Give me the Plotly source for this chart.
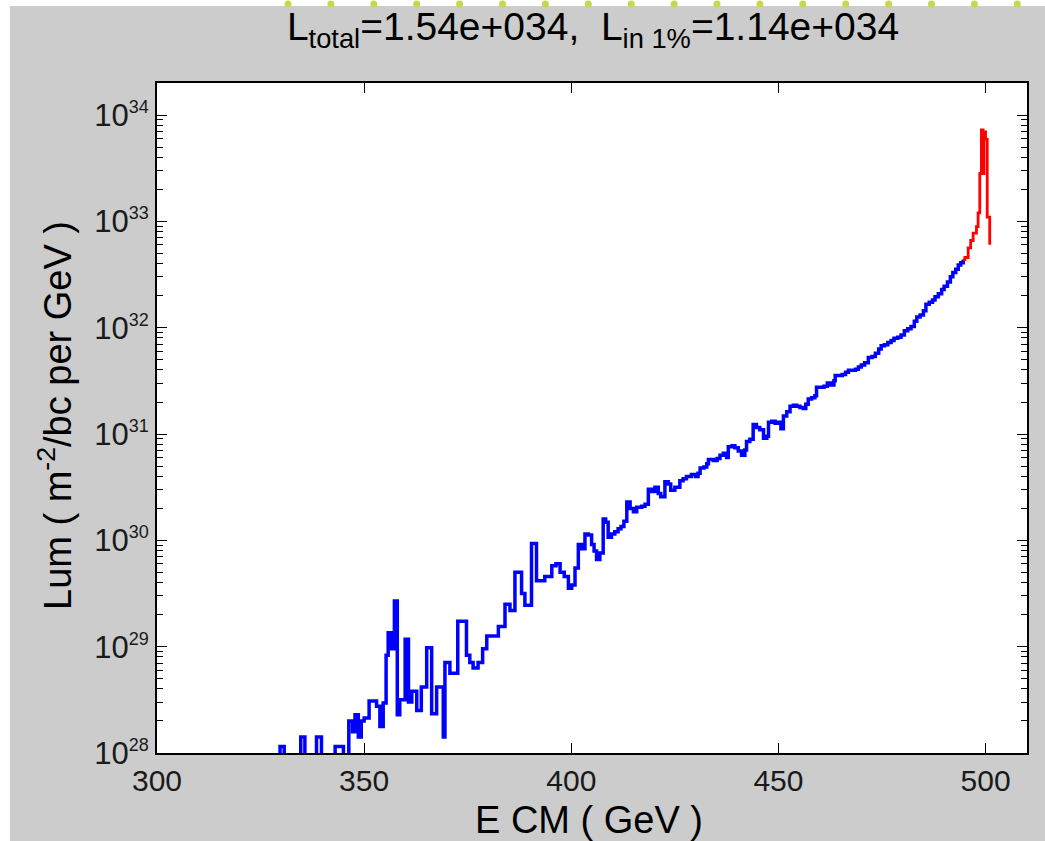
import plotly.graph_objects as go

# ---------------- data ----------------
# Centre-of-mass energy (GeV), left edge of each histogram step
blue_E = [329.0, 329.7, 330.7, 334.7, 335.7, 338.5, 339.7, 343.0, 345.0, 346.3,
          347.2, 347.8, 348.6, 349.3, 350.0, 351.2, 353.0, 353.8, 354.6, 355.3,
          355.8, 356.6, 357.3, 358.0, 358.6, 359.9, 360.7, 361.5, 362.7, 363.8,
          365.1, 366.3, 367.5, 369.1, 369.5, 370.7, 372.6, 374.7, 375.5, 376.3,
          377.5, 378.6, 379.6, 382.4, 384.0, 385.2, 386.4, 388.0, 388.8, 390.4,
          391.6, 393.6,
          395.3, 396.3, 397.3, 398.3, 399.3, 400.1, 400.9, 401.7, 402.5, 403.3,
          404.1, 404.9, 405.5, 406.1, 406.9, 407.7, 408.3, 408.9, 409.7, 410.5,
          411.3, 412.0, 412.7, 413.4, 414.2, 415.0, 415.8, 417.0, 417.8, 418.6,
          419.4, 420.2, 421.0, 421.6, 422.6, 423.4, 424.0, 425.0, 426.2, 427.0,
          427.8, 429.0, 430.0, 430.6, 431.1, 432.0, 432.7, 433.1, 434.3, 435.2,
          435.9, 436.7, 437.5, 437.9, 438.8, 439.5, 440.3, 441.1, 441.9, 442.3,
          443.1, 443.9, 444.7, 445.5, 446.4, 447.2, 447.6, 448.4, 449.2, 450.0,
          450.6, 451.2, 452.0, 452.8, 453.6, 454.4, 455.2, 456.0, 456.6, 457.2,
          458.0, 458.8, 459.2, 460.2, 461.0, 461.8, 462.6, 463.4, 463.7, 464.6,
          465.4, 466.2, 466.9, 467.8, 468.6, 469.3, 470.0, 470.8, 471.7, 472.6,
          473.4, 474.2, 474.8, 475.6, 476.4, 477.2, 477.9, 478.8, 479.6, 480.4,
          481.2, 482.0, 482.8, 483.4, 484.2, 485.0, 485.6, 486.4, 487.2, 487.8,
          488.6, 489.4, 490.0, 490.8, 491.5, 492.1, 492.8, 493.4, 494.0, 494.6]
# log10 of luminosity (m^-2/bc per GeV); 27 = below the plotted range
blue_log10L = [27, 28.06, 27, 28.15, 27, 28.15, 27, 28.06, 27, 28.30,
               28.20, 28.36, 28.15, 28.30, 28.33, 28.49, 28.44, 28.25, 28.47, 28.92,
               29.13, 28.98, 29.43, 28.36, 28.50, 29.07, 28.48, 28.58, 28.40, 28.62,
               28.99, 28.37, 28.62, 28.15, 28.85, 28.75, 29.24, 28.92, 28.85, 28.80,
               28.85, 28.98, 29.10, 29.19, 29.40, 29.34, 29.70, 29.50, 29.39, 29.97,
               29.62, 29.66,
               29.76, 29.78, 29.70, 29.66, 29.55, 29.58, 29.74, 29.96, 29.92, 30.06,
               30.05, 29.96, 29.90, 29.82, 29.88, 30.20, 30.17, 30.03, 30.06, 30.08,
               30.11, 30.13, 30.18, 30.36, 30.30, 30.27, 30.31, 30.32, 30.34, 30.48,
               30.46, 30.50, 30.44, 30.41, 30.55, 30.53, 30.47, 30.50, 30.56, 30.58,
               30.60, 30.62, 30.60, 30.63, 30.68, 30.69, 30.72, 30.76, 30.75, 30.77,
               30.80, 30.82, 30.78, 30.88, 30.89, 30.87, 30.84, 30.80, 30.85, 30.93,
               30.95, 31.09, 31.06, 31.04, 30.96, 30.98, 31.11, 31.12, 31.10, 31.11,
               31.05, 31.17, 31.21, 31.26, 31.27, 31.26, 31.25, 31.24, 31.28, 31.33,
               31.34, 31.36, 31.44, 31.44, 31.45, 31.48, 31.46, 31.50, 31.55, 31.55,
               31.56, 31.58, 31.60, 31.60, 31.61, 31.63, 31.65, 31.67, 31.72, 31.73,
               31.76, 31.80, 31.83, 31.84, 31.86, 31.88, 31.90, 31.91, 31.93, 31.97,
               31.99, 32.01, 32.06, 32.10, 32.12, 32.16, 32.22, 32.24, 32.26, 32.29,
               32.32, 32.36, 32.39, 32.43, 32.48, 32.52, 32.55, 32.59, 32.61, 32.64]

red_E = [494.6, 495.0, 495.8, 496.4, 497.0, 497.8, 498.2, 498.6, 499.0, 499.4,
         499.6, 500.0, 500.4, 501.0]
red_log10L = [32.64, 32.66, 32.75, 32.82, 32.89, 32.95, 33.08, 33.45, 33.86, 33.45,
              33.84, 33.77, 33.04, 32.78]

x_ticks = [300, 350, 400, 450, 500]
y_tick_exponents = [28, 29, 30, 31, 32, 33, 34]
title_text = "L<sub>total</sub>=1.54e+034,\u00a0\u00a0L<sub>in 1%</sub>=1.14e+034"
x_title = "E CM ( GeV )"
y_title = "Lum ( m<sup>-2</sup>/bc per GeV )"

blue_L = [10.0 ** float(v) for v in blue_log10L]
red_L = [10.0 ** float(v) for v in red_log10L]
y_tickvals = [10.0 ** e for e in y_tick_exponents]
y_ticktext = ["10<sup><span style='font-size:18px'>%d</span></sup>" % e
              for e in y_tick_exponents]
y_minor = [m * 10.0 ** e for e in y_tick_exponents[:-1] for m in range(2, 10)] + [2e34]

# ---------------- figure ----------------
W, H = 1045, 841
ML, MR, MT, MB = 157, 18, 83, 88
PW, PH = W - ML - MR, H - MT - MB


def px(xp):
    return (xp - ML) / PW


def py(yp):
    return (H - MB - yp) / PH


FONT = "Liberation Sans, Arial, Helvetica, sans-serif"

fig = go.Figure()
fig.add_trace(go.Scatter(x=blue_E, y=blue_L, mode="lines", line_shape="hv",
                         line=dict(color="#0000FF", width=3.5), hoverinfo="skip"))
fig.add_trace(go.Scatter(x=red_E, y=red_L, mode="lines", line_shape="hv",
                         line=dict(color="#FF0000", width=2.8), hoverinfo="skip"))

axis_common = dict(
    showline=True, linecolor="black", linewidth=2, mirror="ticks",
    ticks="inside", ticklen=10, tickwidth=1, tickcolor="black",
    showgrid=False, zeroline=False,
)

fig.update_xaxes(range=[300, 510], tickmode="array", tickvals=x_ticks,
                 tickfont=dict(family=FONT, size=30, color="#1a1a1a"), **axis_common)
fig.update_yaxes(type="log", range=[28, 34.30103], tickmode="array",
                 tickvals=y_tickvals, ticktext=y_ticktext,
                 tickfont=dict(family=FONT, size=31, color="#1a1a1a"),
                 minor=dict(ticks="inside", ticklen=6, tickcolor="black",
                            tickvals=y_minor, showgrid=False),
                 **axis_common)

shapes = [
    # white strips along top and left edges of the picture
    dict(type="rect", xref="paper", yref="paper", x0=px(0), x1=px(W), y0=py(6), y1=py(0),
         fillcolor="white", line=dict(width=0), layer="above"),
    dict(type="rect", xref="paper", yref="paper", x0=px(0), x1=px(10), y0=py(H), y1=py(0),
         fillcolor="white", line=dict(width=0), layer="above"),
]
for k in range(18):
    cx = 288 + 42.9 * k
    shapes.append(dict(type="circle", xref="paper", yref="paper",
                       x0=px(cx - 3.5), x1=px(cx + 3.5), y0=py(7.5), y1=py(0.5),
                       fillcolor="#c8d84c", line=dict(width=0), layer="above"))

fig.update_layout(
    width=W, height=H,
    margin=dict(l=ML, r=MR, t=MT, b=MB, pad=0),
    paper_bgcolor="#CCCCCC", plot_bgcolor="white",
    showlegend=False,
    font=dict(family=FONT, color="black"),
    title=dict(text=title_text, x=px(593), xref="paper", xanchor="center",
               y=1 - 26 / H, yref="container", yanchor="middle",
               font=dict(family=FONT, size=39, color="black")),
    shapes=shapes,
    annotations=[
        dict(text=x_title, xref="paper", yref="paper", x=px(589), y=py(820),
             xanchor="center", yanchor="middle", showarrow=False,
             font=dict(family=FONT, size=38, color="black")),
        dict(text=y_title, xref="paper", yref="paper", x=px(55), y=py(416),
             xanchor="center", yanchor="middle", showarrow=False, textangle=-90,
             font=dict(family=FONT, size=38, color="black")),
    ],
)

fig.write_html("out.html")
